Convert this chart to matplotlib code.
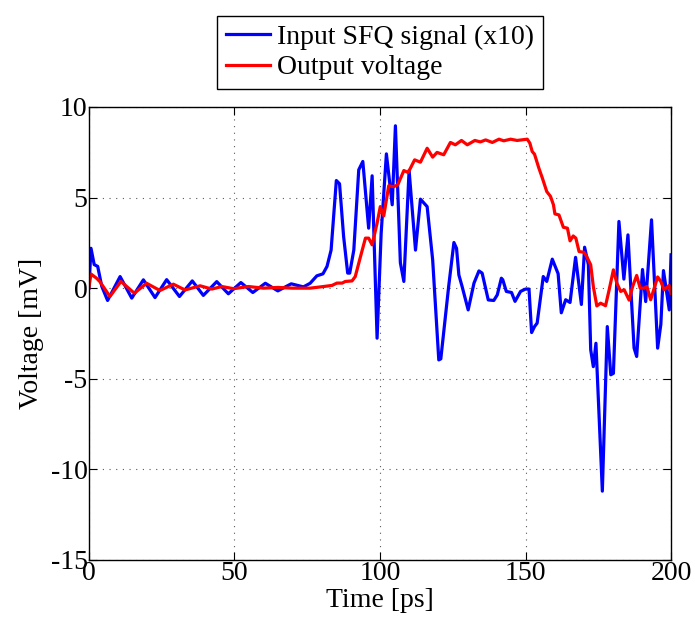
import numpy as np
import matplotlib
matplotlib.use("Agg")
import matplotlib.pyplot as plt

# input SFQ signal (x10)
blue_t = [0, 0.7, 1.8, 3.0, 4.4, 6.4, 10.7, 14.7, 18.7, 22.7, 26.7, 31.1, 35.5, 39.3, 43.9,
          47.9, 52.2, 56.3, 60.6, 64.9, 69.5, 73.7, 76.0, 78.3, 80.4, 81.8, 83.2, 85.0, 86.1,
          87.5, 88.9, 89.6, 91.0, 92.7, 94.1, 96.1, 97.3, 99.0, 100.4, 102.2, 104.2, 105.3,
          107.0, 108.2, 110.0, 112.2, 113.9, 116.2, 118.1, 120.2, 120.9, 123.6, 125.4, 126.3,
          127.1, 128.2, 130.3, 132.3, 134.0, 135.1, 137.2, 139.1, 140.3, 141.7, 142.2, 143.4,
          145.2, 146.4, 148.3, 150.0, 151.2, 152.1, 153.1, 154.0, 156.1, 157.3, 159.2, 161.2,
          162.3, 163.8, 165.3, 167.2, 169.2, 170.3, 171.6, 172.4, 173.3, 174.2, 176.4, 178.1,
          179.3, 180.2, 182.1, 183.8, 185.2, 187.3, 188.2, 190.2, 191.3, 193.3, 195.4, 196.5,
          197.4, 199.4, 200.0]
blue_v = [0, 2.2, 1.3, 1.2, 0.1, -0.68, 0.64, -0.55, 0.46, -0.52, 0.47, -0.46, 0.40, -0.40, 0.36,
          -0.31, 0.31, -0.24, 0.27, -0.15, 0.24, 0.07, 0.27, 0.68, 0.79, 1.2, 2.1, 5.94, 5.76,
          2.85, 0.83, 0.83, 2.1, 6.53, 6.99, 3.31, 6.2, -2.76, 3.03, 7.41, 4.6, 8.96,
          1.4, 0.37, 6.5, 2.1, 4.91, 4.5, 1.56, -3.96, -3.9, 0.1, 2.52, 2.2,
          0.73, 0.1, -1.2, 0.28, 0.95, 0.83, -0.65, -0.68, -0.37, 0.55, 0.46, -0.18,
          -0.24, -0.73, -0.18, -0.05, -0.05, -2.45, -2.12, -1.93, 0.64, 0.37, 1.6, 0.8,
          -1.36, -0.64, -0.79, 1.7, -0.9, 2.26, 1.3, -3.4, -4.33, -3.04, -11.2, -2.12,
          -4.78, -4.7, 3.68, 0.5, 2.94, -3.3, -3.77, 1.03, -0.74, 3.77, -3.31, -2.0,
          0.97, -1.2, 1.84]

# output voltage
red_t = [0, 0.7, 2.6, 3.8, 7.2, 11.0, 15.6, 19.8, 24.4, 29.0, 33.0, 38.2, 42.2, 45.7, 49.7,
         54.8, 60, 65, 70, 76.0, 80.6, 83.5, 85.2, 87.0, 88.1, 90.4, 91.5, 93.3, 95.0, 96.1,
         97.3, 99.0, 100.1, 101.3, 103.0, 104.7, 106.1, 108.2, 109.7, 111.9, 113.9, 116.2,
         118.1, 119.6, 121.9, 124.2, 125.9, 128.0, 130.0, 132.6, 134.5, 136.3, 138.6, 140.9,
         142.5, 144.9, 147.1, 150.6, 151.5, 152.3, 153.1, 154.6, 155.8, 157.3, 158.6, 159.6,
         160.1, 161.5, 163.0, 164.4, 165.3, 166.4, 167.3, 168.4, 170.1, 171.0, 172.4, 173.3,
         174.5, 175.8, 177.5, 178.7, 180.2, 181.4, 182.7, 183.9, 185.6, 186.8, 188.2, 189.4,
         190.8, 191.7, 193.0, 195.4, 196.5, 197.6, 199.4, 200.0]
red_v = [0.05, 0.78, 0.55, 0.35, -0.46, 0.37, -0.28, 0.27, -0.13, 0.22, -0.1, 0.13, -0.05, 0.09, -0.03,
         0.09, 0.0, 0.04, 0.0, 0.0, 0.09, 0.15, 0.28, 0.28, 0.37, 0.4, 0.64, 1.74, 2.76, 2.76,
         2.39, 3.59, 4.5, 3.99, 5.65, 5.6, 5.7, 6.49, 6.38, 7.08, 6.95, 7.72,
         7.23, 7.49, 7.36, 8.04, 7.91, 8.15, 7.91, 8.15, 8.07, 8.18, 8.04, 8.22,
         8.13, 8.22, 8.15, 8.22, 8.0, 7.54, 7.39, 6.62, 6.07, 5.33, 5.06, 4.6,
         4.1, 4.04, 3.36, 3.31, 2.61, 2.88, 2.76, 2.02, 1.98, 1.75, 1.29, 0.09,
         -0.98, -0.83, -0.97, -0.12, 1.01, 0.27, -0.18, -0.09, -0.66, 0.09, 0.7, 0.0,
         0.0, 0.09, -0.64, 0.62, 0.37, -0.09, 0.15, -0.28]

x_ticks = [0, 50, 100, 150, 200]
y_ticks = [-15, -10, -5, 0, 5, 10]

plt.rcParams['font.family'] = ['Liberation Serif', 'DejaVu Serif']
plt.rcParams['axes.unicode_minus'] = False

fig = plt.figure(figsize=(6.95, 6.29), dpi=100)
ax = fig.add_axes([0.128, 0.1097, 0.8375, 0.7203])

ax.plot(blue_t, blue_v, color=(0, 0, 1), lw=2.3, solid_joinstyle='round',
        label='Input SFQ signal (x10)')
ax.plot(red_t, red_v, color=(1, 0, 0), lw=2.3, solid_joinstyle='round',
        label='Output voltage')

ax.set_xlim(0, 200)
ax.set_ylim(-15, 10)
ax.set_xticks(x_ticks)
ax.set_yticks(y_ticks)
ax.tick_params(direction='in', top=True, right=True, labelsize=20, length=6, width=0.8, pad=1)
ax.grid(True, linestyle=(0, (1, 5)), color='0.35', lw=0.8)
for s in ax.spines.values():
    s.set_linewidth(1.0)

ax.set_xlabel('Time [ps]', fontsize=20, labelpad=1)
ax.set_ylabel('Voltage [mV]', fontsize=20, labelpad=5)

leg = ax.legend(loc='lower center', bbox_to_anchor=(0.5, 1.04), fontsize=20, frameon=True,
                fancybox=False, edgecolor='black', framealpha=1, handlelength=1.6,
                handletextpad=0.25, borderpad=0.3, labelspacing=0.18, borderaxespad=0)
leg.get_frame().set_linewidth(1.0)

fig.savefig('out.png', dpi=100)
